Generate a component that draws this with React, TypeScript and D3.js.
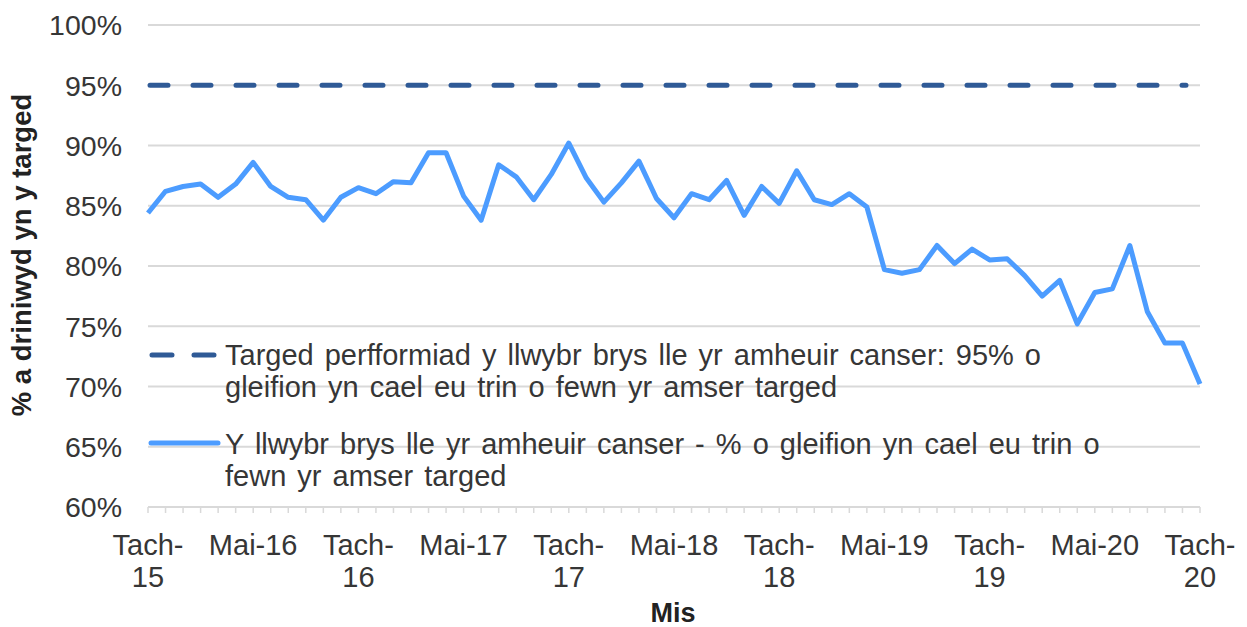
import React, { useEffect, useRef } from "react";
import * as d3 from "d3";

// Monthly % of patients treated within target time, Tach-15 .. Tach-20
const values = [
  84.4, 86.2, 86.6, 86.8, 85.7, 86.8, 88.6, 86.6, 85.7, 85.5,
  83.8, 85.7, 86.5, 86.0, 87.0, 86.9, 89.4, 89.4, 85.8, 83.8,
  88.4, 87.4, 85.5, 87.6, 90.2, 87.3, 85.3, 86.9, 88.7, 85.6,
  84.0, 86.0, 85.5, 87.1, 84.2, 86.6, 85.2, 87.9, 85.5, 85.1,
  86.0, 84.9, 79.7, 79.4, 79.7, 81.7, 80.2, 81.4, 80.5, 80.6,
  79.2, 77.5, 78.8, 75.2, 77.8, 78.1, 81.7, 76.2, 73.6, 73.6, 70.2,
];
const target = 95;
const yTicks = [60, 65, 70, 75, 80, 85, 90, 95, 100];
// label shown every 6th month, index into values
const xTickLabels = [
  { i: 0, lines: ["Tach-", "15"] },
  { i: 6, lines: ["Mai-16"] },
  { i: 12, lines: ["Tach-", "16"] },
  { i: 18, lines: ["Mai-17"] },
  { i: 24, lines: ["Tach-", "17"] },
  { i: 30, lines: ["Mai-18"] },
  { i: 36, lines: ["Tach-", "18"] },
  { i: 42, lines: ["Mai-19"] },
  { i: 48, lines: ["Tach-", "19"] },
  { i: 54, lines: ["Mai-20"] },
  { i: 60, lines: ["Tach-", "20"] },
];
const legendTarget = [
  "Targed perfformiad y llwybr brys lle yr amheuir canser: 95% o",
  "gleifion yn cael eu trin o fewn yr amser targed",
];
const legendSeries = [
  "Y llwybr brys lle yr amheuir canser - % o gleifion yn cael eu trin o",
  "fewn yr amser targed",
];

const W = 1247;
const H = 627;
const FONT = "'Liberation Sans', Arial, sans-serif";
const TEXT = "#363636";
const DARK = "#2F5A96";
const LIGHT = "#4C9CFF";

const App = () => {
  const ref = useRef<SVGSVGElement>(null);

  useEffect(() => {
    if (!ref.current) return;
    const svg = d3.select(ref.current);
    svg.selectAll("*").remove();

    const x = d3.scaleLinear().domain([0, values.length - 1]).range([148, 1200]);
    const y = d3.scaleLinear().domain([60, 100]).range([507, 25]);

    // gridlines
    svg.append("g")
      .selectAll("line")
      .data(yTicks)
      .enter()
      .append("line")
      .attr("x1", x(0))
      .attr("x2", x(values.length - 1))
      .attr("y1", d => y(d))
      .attr("y2", d => y(d))
      .attr("stroke", "#D9D9D9")
      .attr("stroke-width", 2);

    // x tick marks
    svg.append("g")
      .selectAll("line")
      .data(values.map((_, i) => i))
      .enter()
      .append("line")
      .attr("x1", d => x(d))
      .attr("x2", d => x(d))
      .attr("y1", y(60))
      .attr("y2", y(60) + 6)
      .attr("stroke", "#D9D9D9")
      .attr("stroke-width", 1.5);

    // y tick labels
    svg.append("g")
      .selectAll("text")
      .data(yTicks)
      .enter()
      .append("text")
      .attr("x", 122)
      .attr("y", d => y(d))
      .attr("dy", "0.36em")
      .attr("text-anchor", "end")
      .style("font-family", FONT)
      .style("font-size", "28.5px")
      .style("fill", TEXT)
      .text(d => d + "%");

    // x tick labels
    const xl = svg.append("g")
      .selectAll("text")
      .data(xTickLabels)
      .enter()
      .append("text")
      .attr("x", d => x(d.i))
      .attr("y", 555)
      .attr("text-anchor", "middle")
      .style("font-family", FONT)
      .style("font-size", "29px")
      .style("fill", TEXT);
    xl.selectAll("tspan")
      .data(d => d.lines.map(l => ({ l, xi: d.i })))
      .enter()
      .append("tspan")
      .attr("x", d => x(d.xi))
      .attr("dy", (_, j) => (j === 0 ? 0 : 32))
      .text(d => d.l);

    // target line (dashed)
    svg.append("line")
      .attr("x1", x(0) + 2)
      .attr("x2", 1186)
      .attr("y1", y(target))
      .attr("y2", y(target))
      .attr("stroke", DARK)
      .attr("stroke-width", 5)
      .attr("stroke-linecap", "round")
      .attr("stroke-dasharray", "18,25");

    // series line
    const line = d3.line<number>()
      .x((_, i) => x(i))
      .y(d => y(d));
    svg.append("path")
      .datum(values)
      .attr("fill", "none")
      .attr("stroke", LIGHT)
      .attr("stroke-width", 5)
      .attr("stroke-linejoin", "round")
      .attr("d", line);

    // legend
    const legend = svg.append("g");
    legend.append("line")
      .attr("x1", 152).attr("x2", 217).attr("y1", 355).attr("y2", 355)
      .attr("stroke", DARK)
      .attr("stroke-width", 5)
      .attr("stroke-linecap", "round")
      .attr("stroke-dasharray", "20,22");
    legend.append("line")
      .attr("x1", 151).attr("x2", 218).attr("y1", 443).attr("y2", 443)
      .attr("stroke", LIGHT)
      .attr("stroke-width", 5)
      .attr("stroke-linecap", "round");

    const addText = (lines: string[], y0: number) => {
      const t = legend.append("text")
        .attr("x", 225)
        .attr("y", y0)
        .style("font-family", FONT)
        .style("font-size", "29px")
        .style("word-spacing", "3px")
        .style("fill", TEXT);
      lines.forEach((l, j) => {
        t.append("tspan").attr("x", 225).attr("dy", j === 0 ? 0 : 32).text(l);
      });
    };
    addText(legendTarget, 365);
    addText(legendSeries, 454);

    // axis titles
    svg.append("text")
      .attr("transform", `translate(31,255) rotate(-90)`)
      .attr("text-anchor", "middle")
      .style("font-family", FONT)
      .style("font-size", "27.5px")
      .style("font-weight", "bold")
      .style("fill", "#222")
      .text("% a driniwyd yn y targed");

    svg.append("text")
      .attr("x", 673)
      .attr("y", 622)
      .attr("text-anchor", "middle")
      .style("font-family", FONT)
      .style("font-size", "27px")
      .style("font-weight", "bold")
      .style("fill", "#222")
      .text("Mis");
  }, []);

  return (
    <div style={{ position: "absolute", left: 0, top: 0, width: W, height: H, background: "#fff" }}>
      <svg ref={ref} width={W} height={H} style={{ display: "block" }} />
    </div>
  );
};

export default App;
